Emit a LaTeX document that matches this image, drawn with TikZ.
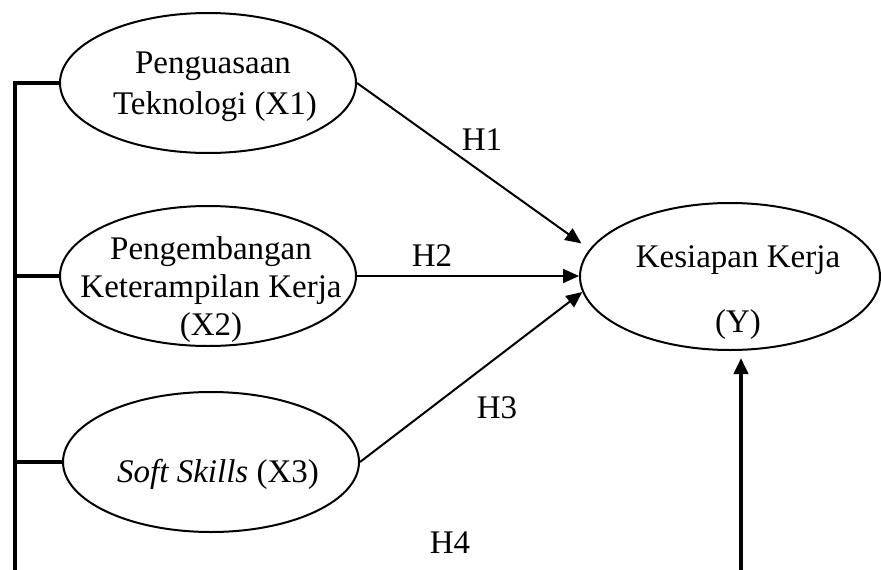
\documentclass[tikz,border=0pt]{standalone}
\usepackage{fontspec}
\setmainfont{Liberation Serif}
\usetikzlibrary{shapes.geometric,arrows.meta}
\begin{document}
\begin{tikzpicture}[x=1pt,y=-1pt,
  var/.style={ellipse,draw,line width=2pt,minimum width=296pt,minimum height=140pt,inner sep=0pt},
  txt/.style={font=\fontsize{33}{39}\selectfont,anchor=base,inner sep=0pt},
  arr/.style={line width=2pt,-{Triangle[length=16pt,width=14pt]}},
  bar/.style={line width=3.8pt},
  thickarr/.style={line width=3.8pt,-{Triangle[length=16pt,width=14pt]}}]
\useasboundingbox (0,0) rectangle (881,570);
% ellipses
\node[var] (x1) at (208,83) {};
\node[var] (x2) at (208,276) {};
\node[var] (x3) at (211,462) {};
\node[var,minimum width=300pt,minimum height=147pt] (y) at (730,276.5) {};
% texts
\node[txt] (t1a) at (213,73) {Penguasaan};
\node[txt] (t1b) at (215,114) {Teknologi (X1)};
\node[txt] (t2a) at (211,259) {Pengembangan};
\node[txt] (t2b) at (211,297) {Keterampilan Kerja};
\node[txt] (t2c) at (211,335) {(X2)};
\node[txt] (t3) at (218,482) {\textit{Soft Skills} (X3)};
\node[txt] (tya) at (738,267) {Kesiapan Kerja};
\node[txt] (tyb) at (738,332) {(Y)};
% hypothesis labels
\node[txt] (h1) at (482,150) {H1};
\node[txt] (h2) at (432,266) {H2};
\node[txt] (h3) at (497,418) {H3};
\node[txt] (h4) at (450,553) {H4};
% left bar
\coordinate (bt) at (15,81);
\coordinate (bb) at (15,572);
\draw[bar] (bt) -- (bb);
\draw[bar] (x1.west) -- (x1.west -| bt);
\draw[bar] (x2.west) -- (x2.west -| bt);
\draw[bar] (x3.west) -- (x3.west -| bt);
% arrows
\draw[arr,shorten >=10pt] (x1.east) -- (y.169);
\draw[arr] (x2.east) -- (x2.east -| y.west);
\draw[arr] (x3.east) -- (y.186);
\coordinate (ytip) at ([xshift=11pt,yshift=-7pt]y.south);
\draw[thickarr] (bb) -- (bb -| ytip) -- (ytip);
\end{tikzpicture}
\end{document}
